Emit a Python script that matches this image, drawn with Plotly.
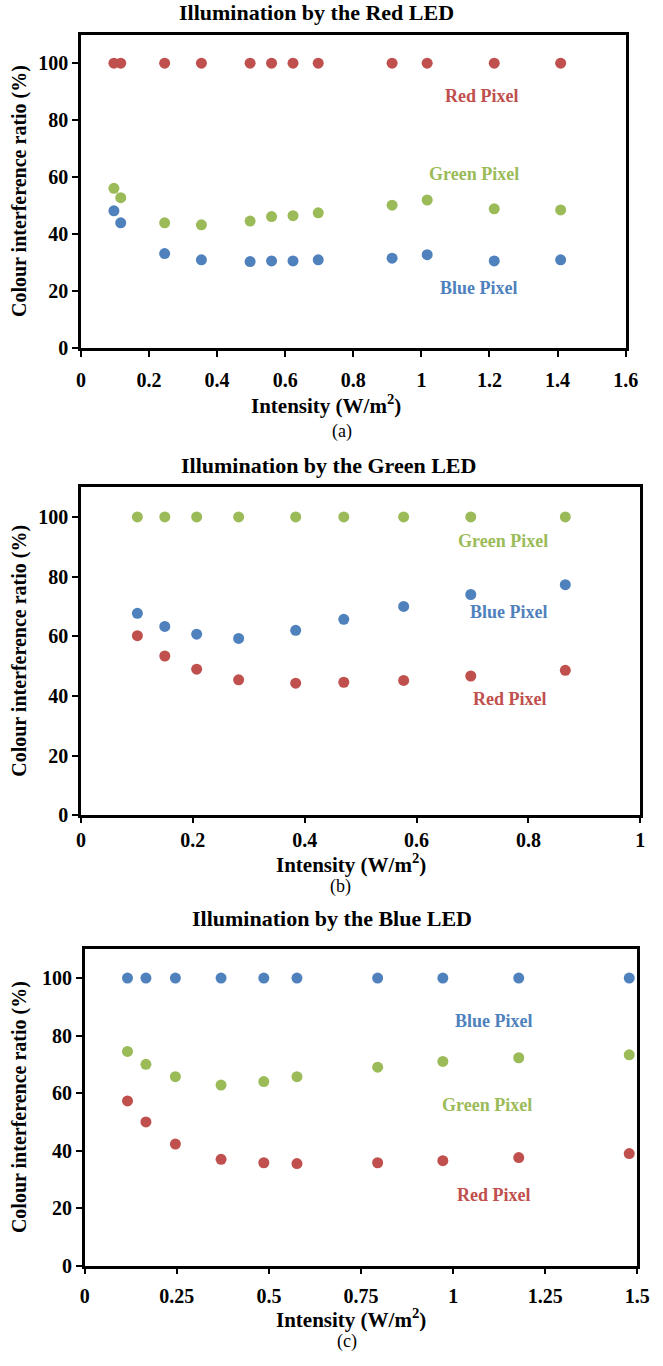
import plotly.graph_objects as go

W, H = 663, 1366

RED = "#C0504D"
GREEN = "#9BBB59"
BLUE = "#4F81BD"

# (a) Illumination by the red LED
red_led_x = [0.097, 0.117, 0.246, 0.354, 0.497, 0.560, 0.623, 0.697, 0.914, 1.017, 1.214, 1.409]
red_led_red = [100, 100, 100, 100, 100, 100, 100, 100, 100, 100, 100, 100]
red_led_green = [56.1, 52.8, 44.0, 43.3, 44.6, 46.2, 46.5, 47.5, 50.2, 52.0, 48.9, 48.5]
red_led_blue = [48.2, 44.0, 33.2, 31.0, 30.4, 30.6, 30.6, 31.0, 31.6, 32.8, 30.6, 31.0]

# (b) Illumination by the green LED
green_led_x = [0.101, 0.150, 0.207, 0.282, 0.384, 0.470, 0.577, 0.697, 0.866]
green_led_green = [100, 100, 100, 100, 100, 100, 100, 100, 100]
green_led_blue = [67.7, 63.3, 60.7, 59.3, 62.0, 65.7, 70.0, 74.0, 77.3]
green_led_red = [60.2, 53.4, 49.0, 45.4, 44.3, 44.6, 45.2, 46.7, 48.6]

# (c) Illumination by the blue LED
blue_led_x = [0.116, 0.166, 0.246, 0.370, 0.486, 0.576, 0.795, 0.972, 1.178, 1.478]
blue_led_blue = [100, 100, 100, 100, 100, 100, 100, 100, 100, 100]
blue_led_green = [74.5, 70.0, 65.7, 62.8, 64.0, 65.7, 69.0, 71.0, 72.3, 73.3]
blue_led_red = [57.3, 50.0, 42.3, 37.0, 35.8, 35.5, 35.8, 36.5, 37.6, 39.0]

x_ticks_a = [0, 0.2, 0.4, 0.6, 0.8, 1, 1.2, 1.4, 1.6]
x_ticks_b = [0, 0.2, 0.4, 0.6, 0.8, 1]
x_ticks_c = [0, 0.25, 0.5, 0.75, 1, 1.25, 1.5]
x_ticklabels_c = ["0", "0.25", "0.5", "0.75", "1", "1.25", "1.5"]
y_ticks = [0, 20, 40, 60, 80, 100]

SERIF = "Liberation Serif"

# plot boxes in pixels: (left, right, top, bottom)
boxes = [
    (78, 638, 35, 351),
    (78, 653, 491, 822),
    (82, 650, 957, 1276),
]


def px_x(p):
    return p / W


def px_y(p):
    return 1 - p / H


fig = go.Figure()

panels = [
    (red_led_x, [(red_led_red, RED), (red_led_green, GREEN), (red_led_blue, BLUE)]),
    (green_led_x, [(green_led_green, GREEN), (green_led_blue, BLUE), (green_led_red, RED)]),
    (blue_led_x, [(blue_led_blue, BLUE), (blue_led_green, GREEN), (blue_led_red, RED)]),
]

for i, (xs, series) in enumerate(panels):
    suffix = "" if i == 0 else str(i + 1)
    for ys, col in series:
        fig.add_trace(go.Scatter(
            x=xs, y=ys, mode="markers",
            marker=dict(color=col, size=11, line=dict(width=0)),
            xaxis="x" + suffix, yaxis="y" + suffix, showlegend=False,
            cliponaxis=False,
        ))

axis_common = dict(
    showgrid=False, zeroline=False, showline=True, linecolor="black",
    linewidth=2.5, mirror=True, ticks="outside", ticklen=6, tickwidth=2,
    tickcolor="black",
    tickfont=dict(family=SERIF, size=20, color="black", weight="bold"),
)

x_specs = [
    dict(range=[0, 1.6], tickvals=x_ticks_a, ticklabelstandoff=6),
    dict(range=[0, 1], tickvals=x_ticks_b, ticklabelstandoff=0, ticklen=5),
    dict(range=[0, 1.5], tickvals=x_ticks_c, ticktext=x_ticklabels_c, ticklabelstandoff=5),
]

layout = dict(
    width=W, height=H, margin=dict(l=0, r=0, t=0, b=0),
    paper_bgcolor="white", plot_bgcolor="white", showlegend=False,
)

for i, (l, r, t, b) in enumerate(boxes):
    suffix = "" if i == 0 else str(i + 1)
    xa = dict(axis_common, domain=[px_x(l), px_x(r)], anchor="y" + suffix)
    xa.update(x_specs[i])
    ya = dict(axis_common, domain=[px_y(b), px_y(t)], anchor="x" + suffix,
              range=[0, 110], tickvals=y_ticks)
    layout["xaxis" + suffix] = xa
    layout["yaxis" + suffix] = ya

fig.update_layout(**layout)

titles = ["Illumination by the Red LED", "Illumination by the Green LED", "Illumination by the Blue LED"]
captions = ["(a)", "(b)", "(c)"]
title_pos = [(320, 13), (333, 469), (336, 926)]
xtitle_pos = [(330, 408), (356, 871), (356, 1329)]
caption_pos = [(346, 435), (345, 894), (352, 1352)]

for i, (l, r, t, b) in enumerate(boxes):
    fig.add_annotation(x=px_x(title_pos[i][0]), y=px_y(title_pos[i][1]),
                       xref="paper", yref="paper",
                       text="<b>%s</b>" % titles[i], showarrow=False,
                       font=dict(family=SERIF, size=22, color="black"),
                       xanchor="center", yanchor="middle")
    fig.add_annotation(x=px_x(xtitle_pos[i][0]), y=px_y(xtitle_pos[i][1]),
                       xref="paper", yref="paper",
                       text="<b>Intensity (W/m<sup>2</sup>)</b>", showarrow=False,
                       font=dict(family=SERIF, size=21, color="black"),
                       xanchor="center", yanchor="middle")
    fig.add_annotation(x=px_x(caption_pos[i][0]), y=px_y(caption_pos[i][1]),
                       xref="paper", yref="paper",
                       text=captions[i], showarrow=False,
                       font=dict(family=SERIF, size=18, color="black"),
                       xanchor="center", yanchor="middle")
    fig.add_annotation(x=px_x(15), y=px_y((t + b) / 2), xref="paper", yref="paper",
                       text="<b>Colour interference ratio (%)</b>", showarrow=False,
                       textangle=-90,
                       font=dict(family=SERIF, size=20, color="black"),
                       xanchor="center", yanchor="middle")

# series labels placed in data coordinates
series_labels = [
    [("Red Pixel", RED, 1.177, 88.5), ("Green Pixel", GREEN, 1.154, 61), ("Blue Pixel", BLUE, 1.169, 21)],
    [("Green Pixel", GREEN, 0.755, 92), ("Blue Pixel", BLUE, 0.765, 68), ("Red Pixel", RED, 0.767, 39)],
    [("Blue Pixel", BLUE, 1.112, 85), ("Green Pixel", GREEN, 1.093, 56), ("Red Pixel", RED, 1.112, 24.5)],
]
for i, labels in enumerate(series_labels):
    suffix = "" if i == 0 else str(i + 1)
    for text, col, lx, ly in labels:
        fig.add_annotation(x=lx, y=ly, xref="x" + suffix, yref="y" + suffix,
                           text="<b>%s</b>" % text, showarrow=False,
                           font=dict(family=SERIF, size=18, color=col),
                           xanchor="center", yanchor="middle")

fig.write_html("out.html")
